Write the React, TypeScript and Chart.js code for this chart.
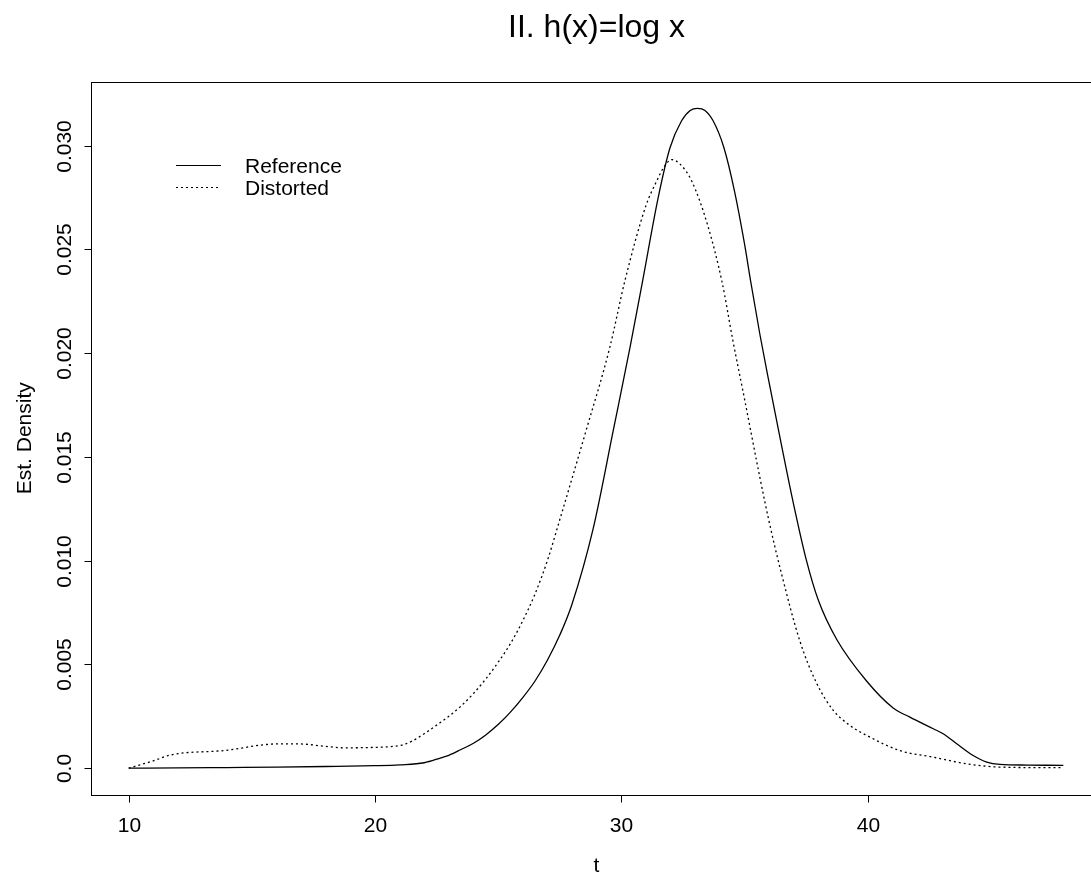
import React, { useEffect, useRef } from "react";
import { Chart, registerables } from "chart.js";

Chart.register(...registerables);

const chartTitle = "II. h(x)=log x";
const xTitle = "t";
const yTitle = "Est. Density";
const xTicks = [10, 20, 30, 40];
const yTicks = [0, 0.005, 0.01, 0.015, 0.02, 0.025, 0.03];
const yTickLabels = ["0.0", "0.005", "0.010", "0.015", "0.020", "0.025", "0.030"];
const seriesNames = ["Reference", "Distorted"];

const refT = [10, 12, 14, 16, 18, 20, 21, 22, 22.68, 23, 23.5, 24, 24.5, 25, 25.5, 26, 26.5, 27, 27.5, 28, 28.86, 29.68, 30.36, 30.87, 31.5, 31.98, 32.45, 32.8, 33.1, 33.4, 33.73, 34.17, 34.6, 35, 35.25, 35.63, 36, 36.5, 37, 37.5, 38, 38.75, 39.96, 41.04, 41.72, 42.67, 43.07, 43.62, 44.29, 44.84, 45.38, 46.5, 47.95];
const refY = [0, 0.00001, 0.00003, 0.00005, 0.00008, 0.00012, 0.00016, 0.00026, 0.0005, 0.00062, 0.0009, 0.0012, 0.0016, 0.0021, 0.0027, 0.0034, 0.0042, 0.0052, 0.0064, 0.0079, 0.01154, 0.0163, 0.0203, 0.0235, 0.0275, 0.0299, 0.0312, 0.0317, 0.0318, 0.0317, 0.0312, 0.0299, 0.0278, 0.0253, 0.0235, 0.0209, 0.0186, 0.0156, 0.0127, 0.0101, 0.0081, 0.0062, 0.0042, 0.0029, 0.00246, 0.0019, 0.00166, 0.00118, 0.00061, 0.00029, 0.00018, 0.00015, 0.00013];

const distT = [10, 11, 11.72, 13.88, 16.05, 16.86, 18, 18.75, 20, 20.65, 21.06, 21.5, 22, 22.68, 23, 23.5, 24, 24.5, 25, 25.5, 26, 26.5, 27, 27.51, 28.53, 29.54, 30.15, 31, 31.44, 31.75, 32.05, 32.4, 32.86, 33.5, 34.08, 34.55, 35.02, 35.63, 36, 36.5, 37.26, 37.93, 38.6, 39.28, 39.96, 41.3, 42.67, 44.02, 45.38, 47.95];
const distY = [0, 0.00035, 0.00064, 0.00085, 0.00117, 0.00117, 0.00105, 0.00098, 0.001, 0.00104, 0.0011, 0.0013, 0.00166, 0.00222, 0.0025, 0.003, 0.0036, 0.0043, 0.0051, 0.006, 0.0071, 0.0084, 0.01, 0.012, 0.0161, 0.0203, 0.0235, 0.0271, 0.0283, 0.029, 0.02933, 0.0291, 0.0283, 0.0262, 0.0235, 0.0205, 0.0177, 0.014, 0.0119, 0.0094, 0.0061, 0.0041, 0.0028, 0.00206, 0.00158, 0.00085, 0.00053, 0.00021, 0.00005, 0.00002];

const FONT = '"Liberation Sans", Arial, Helvetica, sans-serif';

const rPlotPlugin = {
  id: "rPlot",
  afterDraw(chart: any) {
    const ctx = chart.ctx as CanvasRenderingContext2D;
    const { left, right, top, bottom } = chart.chartArea;
    const xs = chart.scales.x;
    const ys = chart.scales.y;
    ctx.save();
    ctx.strokeStyle = "#000";
    ctx.fillStyle = "#000";
    ctx.lineWidth = 1;
    // box
    ctx.strokeRect(Math.round(left) + 0.5, Math.round(top) + 0.5, Math.round(right - left), Math.round(bottom - top));
    // x ticks
    ctx.font = `21px ${FONT}`;
    ctx.textAlign = "center";
    ctx.textBaseline = "alphabetic";
    xTicks.forEach((v) => {
      const px = Math.round(xs.getPixelForValue(v)) + 0.5;
      ctx.beginPath();
      ctx.moveTo(px, Math.round(bottom) + 0.5);
      ctx.lineTo(px, Math.round(bottom) + 7.5);
      ctx.stroke();
      ctx.fillText(String(v), px, 832);
    });
    // y ticks
    yTicks.forEach((v, i) => {
      const py = Math.round(ys.getPixelForValue(v)) + 0.5;
      ctx.beginPath();
      ctx.moveTo(Math.round(left) + 0.5, py);
      ctx.lineTo(Math.round(left) - 6.5, py);
      ctx.stroke();
      ctx.save();
      ctx.translate(70.5, py);
      ctx.rotate(-Math.PI / 2);
      ctx.textAlign = "center";
      ctx.fillText(yTickLabels[i], 0, 0);
      ctx.restore();
    });
    // axis titles
    ctx.textAlign = "center";
    ctx.fillText(xTitle, (left + right) / 2, 872);
    ctx.save();
    ctx.translate(30.5, (top + bottom) / 2);
    ctx.rotate(-Math.PI / 2);
    ctx.fillText(yTitle, 0, 0);
    ctx.restore();
    // title
    ctx.font = `32px ${FONT}`;
    ctx.fillText(chartTitle, (left + right) / 2, 37);
    // legend
    ctx.font = `21px ${FONT}`;
    ctx.textAlign = "left";
    ctx.lineWidth = 1.2;
    ctx.beginPath();
    ctx.moveTo(176, 165.5);
    ctx.lineTo(221, 165.5);
    ctx.stroke();
    ctx.setLineDash([2, 3]);
    ctx.beginPath();
    ctx.moveTo(176, 187.5);
    ctx.lineTo(221, 187.5);
    ctx.stroke();
    ctx.setLineDash([]);
    ctx.fillText(seriesNames[0], 245, 172.5);
    ctx.fillText(seriesNames[1], 245, 195);
    ctx.restore();
  },
};

export default function App() {
  const ref = useRef<HTMLCanvasElement | null>(null);
  useEffect(() => {
    if (!ref.current) return;
    const chart = new Chart(ref.current, {
      type: "line",
      data: {
        datasets: [
          {
            label: seriesNames[0],
            data: refT.map((t, i) => ({ x: t, y: refY[i] })),
            borderColor: "#000",
            borderWidth: 1.3,
            pointRadius: 0,
            cubicInterpolationMode: "monotone",
            fill: false,
          },
          {
            label: seriesNames[1],
            data: distT.map((t, i) => ({ x: t, y: distY[i] })),
            borderColor: "#000",
            borderWidth: 1.3,
            borderDash: [2, 3],
            pointRadius: 0,
            cubicInterpolationMode: "monotone",
            fill: false,
          },
        ],
      },
      options: {
        responsive: false,
        animation: false,
        layout: { padding: { left: 91, right: 1120 - 1102, top: 82, bottom: 874 - 794.5 } },
        scales: {
          x: { type: "linear", min: 8.47, max: 49.52, display: false },
          y: { type: "linear", min: -0.00127, max: 0.03307, display: false },
        },
        plugins: { legend: { display: false }, tooltip: { enabled: false } },
      },
      plugins: [rPlotPlugin],
    });
    return () => chart.destroy();
  }, []);
  return (
    <div style={{ position: "fixed", left: 0, top: 0, width: 1091, height: 874, overflow: "hidden", background: "#fff" }}>
      <canvas ref={ref} width={1120} height={874} style={{ width: 1120, height: 874, display: "block" }} />
    </div>
  );
}
